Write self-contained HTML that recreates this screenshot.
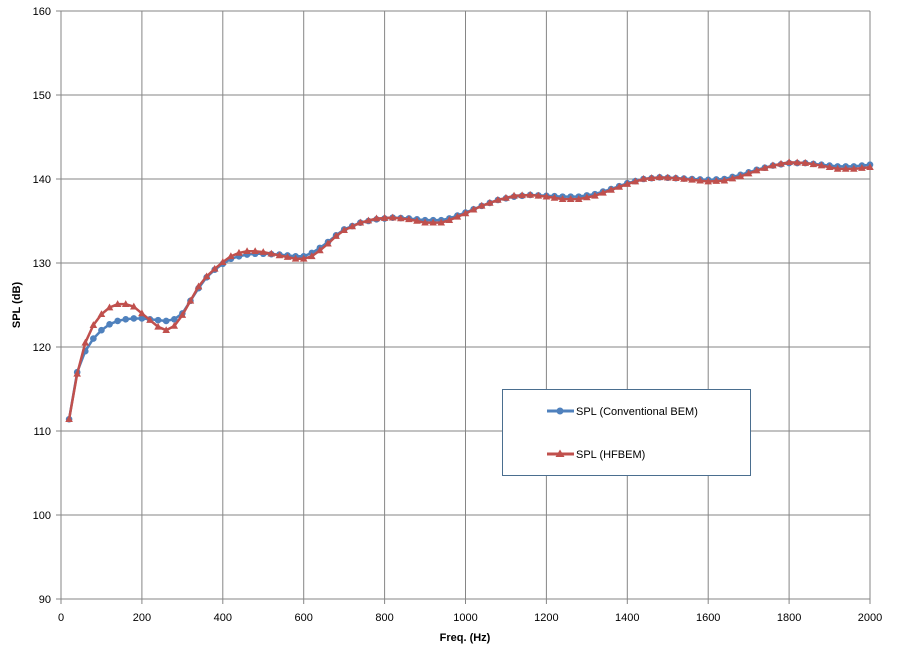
<!DOCTYPE html>
<html><head><meta charset="utf-8"><style>
body{margin:0;background:#fff;width:903px;height:654px;overflow:hidden}
text{font-family:"Liberation Sans",sans-serif;font-size:11px;fill:#000}
</style></head><body>
<svg id="s" width="903" height="654" xmlns="http://www.w3.org/2000/svg">
<rect x="0.5" y="0.5" width="902" height="653" fill="#fff" stroke="none"/>
<g id="grid"></g>
<g id="series"></g>
<rect x="502.5" y="389.5" width="248" height="86" fill="#fff" stroke="#4a6e8f" stroke-width="1"/>
<line x1="547" y1="411" x2="574" y2="411" stroke="#4f81bd" stroke-width="3"/>
<circle cx="560" cy="411" r="3.5" fill="#4f81bd"/>
<text x="576" y="415">SPL (Conventional BEM)</text>
<line x1="547" y1="454" x2="574" y2="454" stroke="#c0504d" stroke-width="3"/>
<polygon points="560,449.5 564.5,457 555.5,457" fill="#c0504d"/>
<text x="576" y="458">SPL (HFBEM)</text>
<text x="465" y="641" text-anchor="middle" style="font-weight:bold;font-size:11px">Freq. (Hz)</text>
<text transform="translate(20,305) rotate(-90)" text-anchor="middle" style="font-weight:bold;font-size:11px">SPL (dB)</text>
</svg>
<script>
const X=f=>61+f*(809/2000), Y=d=>599-(d-90)*8.4;
let g='';
for(let i=0;i<=10;i++){const x=X(i*200);g+=`<line x1="${x}" y1="11" x2="${x}" y2="604" stroke="#868686"/>`;g+=`<text x="${x}" y="621" text-anchor="middle">${i*200}</text>`;}
for(let j=0;j<=7;j++){const d=90+j*10,y=Y(d);g+=`<line x1="56" y1="${y}" x2="870" y2="${y}" stroke="#868686"/>`;g+=`<text x="51" y="${y+4}" text-anchor="end">${d}</text>`;}
document.getElementById('grid').innerHTML=g;
const B=[[20,111.4],[40,117],[60,119.5],[80,121],[100,122],[120,122.7],[140,123.1],[160,123.3],[180,123.4],[200,123.4],[220,123.3],[240,123.2],[260,123.1],[280,123.3],[300,124],[320,125.5],[340,127],[360,128.3],[380,129.2],[400,129.9],[420,130.5],[440,130.8],[460,131],[480,131.1],[500,131.1],[540,131],[580,130.8],[600,130.8],[620,131.2],[640,131.8],[660,132.5],[680,133.3],[700,134],[740,134.8],[780,135.2],[820,135.4],[860,135.3],[900,135.1],[940,135.1],[960,135.3],[1000,136],[1040,136.8],[1080,137.5],[1120,137.9],[1160,138.1],[1200,138],[1240,137.9],[1280,137.9],[1320,138.2],[1360,138.8],[1400,139.5],[1440,140],[1480,140.2],[1520,140.1],[1560,140],[1600,139.9],[1640,140],[1680,140.5],[1720,141.1],[1760,141.6],[1800,141.9],[1840,141.9],[1880,141.7],[1920,141.5],[1960,141.5],[2000,141.7]];
const R=[[20,111.4],[40,116.8],[60,120.5],[80,122.6],[100,123.9],[120,124.7],[140,125.1],[160,125.1],[180,124.8],[200,124],[220,123.2],[240,122.4],[260,122],[280,122.5],[300,123.8],[320,125.5],[340,127.2],[360,128.4],[380,129.3],[400,130.1],[420,130.8],[440,131.2],[460,131.4],[480,131.4],[500,131.3],[540,130.9],[580,130.5],[600,130.5],[620,130.8],[640,131.5],[660,132.3],[680,133.2],[700,133.9],[740,134.8],[780,135.3],[820,135.4],[860,135.2],[900,134.8],[940,134.8],[960,135.1],[1000,135.9],[1040,136.8],[1080,137.5],[1120,138],[1160,138.1],[1200,137.9],[1240,137.6],[1280,137.6],[1320,138],[1360,138.7],[1400,139.4],[1440,140],[1480,140.2],[1520,140.1],[1560,139.9],[1600,139.7],[1640,139.8],[1680,140.3],[1720,141],[1760,141.6],[1800,142],[1840,141.9],[1880,141.6],[1920,141.2],[1960,141.2],[2000,141.4]];
function interp(K,f){for(let i=0;i<K.length-1;i++){if(f>=K[i][0]&&f<=K[i+1][0]){const t=(f-K[i][0])/(K[i+1][0]-K[i][0]);return K[i][1]+t*(K[i+1][1]-K[i][1]);}}return K[K.length-1][1];}
let s='';
function series(K,col,tri){let pts=[];for(let f=20;f<=2000;f+=20)pts.push([X(f),Y(interp(K,f))]);
s+=`<polyline points="${pts.map(p=>p.join(',')).join(' ')}" fill="none" stroke="${col}" stroke-width="2.5" stroke-linejoin="round"/>`;
for(const [x,y] of pts){s+=tri?`<polygon points="${x},${y-4} ${x+3.8},${y+2.8} ${x-3.8},${y+2.8}" fill="${col}"/>`:`<circle cx="${x}" cy="${y}" r="3.3" fill="${col}"/>`;}}
series(B,'#4f81bd',false);series(R,'#c0504d',true);
document.getElementById('series').innerHTML=s;
</script>
</body></html>
